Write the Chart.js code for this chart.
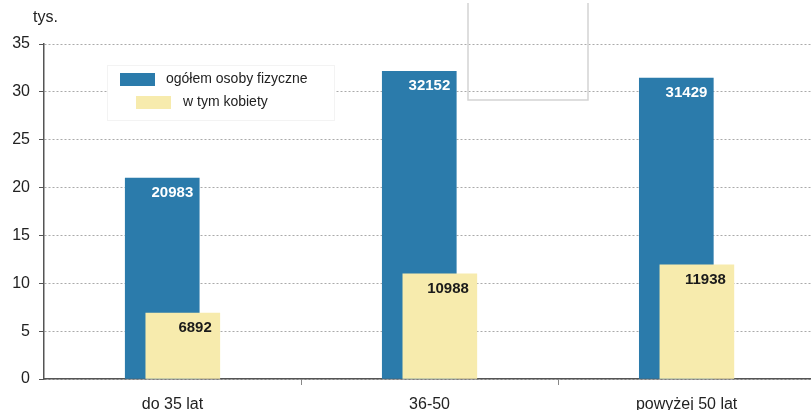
<!DOCTYPE html>
<html>
<head>
<meta charset="utf-8">
<script src="https://cdn.jsdelivr.net/npm/chart.js@4.4.0/dist/chart.umd.min.js"></script>
<style>
  body { margin: 0; background: #fff; }
  #wrap { width: 811px; height: 410px; position: relative; }
</style>
</head>
<body>
<div id="wrap"><canvas id="chart"></canvas></div>
<script>
// data
const categories = ['do 35 lat', '36-50', 'powyżej 50 lat'];
const ogolem = [20983, 32152, 31429];
const kobiety = [6892, 10988, 11938];
const yTicks = [0, 5, 10, 15, 20, 25, 30, 35];
const seriesNames = ['ogółem osoby fizyczne', 'w tym kobiety'];
const unitLabel = 'tys.';

const BLUE = '#2b7bab';
const YELLOW = '#f7ebad';
const FONT = "'Liberation Sans', Arial, sans-serif";

// overlapping bars: shift each series a little off the category centre
function points(values, shift) {
    return values.map(function (v, i) { return { x: i + shift, y: v / 1000 }; });
}

const labelPlugin = {
    id: 'barLabels',
    afterDatasetsDraw: function (chart) {
        const ctx = chart.ctx;
        ctx.save();
        ctx.font = 'bold 15px ' + FONT;
        ctx.textAlign = 'right';
        ctx.textBaseline = 'middle';
        chart.data.datasets.forEach(function (ds, di) {
            const meta = chart.getDatasetMeta(di);
            const raw = di === 0 ? ogolem : kobiety;
            meta.data.forEach(function (bar, i) {
                ctx.fillStyle = di === 0 ? '#ffffff' : '#1a1a1a';
                const pad = di === 0 ? 6 : 8;
                ctx.fillText(String(raw[i]), bar.x + bar.width / 2 - pad, bar.y + 15);
            });
        });
        ctx.restore();
    },
    afterDraw: function (chart) {
        const ctx = chart.ctx;
        ctx.save();
        // legend box
        ctx.fillStyle = '#ffffff';
        ctx.fillRect(107, 65, 227, 55);
        ctx.strokeStyle = '#f3f3f3';
        ctx.lineWidth = 1;
        ctx.strokeRect(107.5, 65.5, 227, 55);
        ctx.fillStyle = BLUE;
        ctx.fillRect(120, 73, 35, 13);
        ctx.fillStyle = YELLOW;
        ctx.fillRect(136, 96, 35, 13);
        ctx.fillStyle = '#222';
        ctx.font = '14px ' + FONT;
        ctx.textBaseline = 'middle';
        ctx.textAlign = 'left';
        ctx.fillText(seriesNames[0], 166, 79);
        ctx.fillText(seriesNames[1], 183, 102);
        // unit label
        ctx.font = '16px ' + FONT;
        ctx.fillText(unitLabel, 33, 18);
        // stray empty frame at the top
        ctx.strokeStyle = '#d4d4d4';
        ctx.lineWidth = 1.5;
        ctx.beginPath();
        ctx.moveTo(468, 3);
        ctx.lineTo(468, 100);
        ctx.lineTo(588, 100);
        ctx.lineTo(588, 3);
        ctx.stroke();
        ctx.restore();
    }
};

new Chart(document.getElementById('chart'), {
    type: 'bar',
    data: {
        datasets: [
            {
                label: seriesNames[0],
                data: points(ogolem, -0.04),
                backgroundColor: BLUE,
                order: 2
            },
            {
                label: seriesNames[1],
                data: points(kobiety, 0.04),
                backgroundColor: YELLOW,
                order: 1
            }
        ]
    },
    options: {
        responsive: true,
        maintainAspectRatio: false,
        animation: false,
        grouped: false,
        barThickness: 74,
        layout: { padding: { top: 44, right: 0, left: 0, bottom: 0 } },
        plugins: {
            legend: { display: false },
            tooltip: { enabled: false }
        },
        scales: {
            x: {
                type: 'linear',
                offset: false,
                min: -0.5,
                max: 2.484,
                afterBuildTicks: function (axis) {
                    axis.ticks = [0, 0.5, 1, 1.5, 2].map(function (v) { return { value: v }; });
                },
                afterFit: function (axis) { axis.height = 31; },
                grid: {
                    offset: false,
                    drawOnChartArea: false,
                    tickLength: 6,
                    tickColor: function (c) {
                        if (!c.tick) return '#888';
                        return Number.isInteger(c.tick.value) ? 'rgba(0,0,0,0)' : '#888';
                    }
                },
                border: { color: '#555', width: 1.5 },
                ticks: {
                    autoSkip: false,
                    maxRotation: 0,
                    padding: 10,
                    color: '#222',
                    font: { family: FONT, size: 16 },
                    callback: function (v) {
                        return Number.isInteger(v) ? categories[v] : '';
                    }
                }
            },
            y: {
                min: 0,
                max: 35,
                afterBuildTicks: function (axis) {
                    axis.ticks = yTicks.map(function (v) { return { value: v }; });
                },
                afterFit: function (axis) { axis.width = 44; },
                grid: {
                    color: '#aaaaaa',
                    lineWidth: 1,
                    tickLength: 5,
                    tickColor: '#555'
                },
                border: { color: '#555', width: 1.5, dash: [2, 2] },
                ticks: {
                    padding: 9,
                    color: '#222',
                    font: { family: FONT, size: 16 }
                }
            }
        }
    },
    plugins: [labelPlugin]
});
</script>
</body>
</html>
